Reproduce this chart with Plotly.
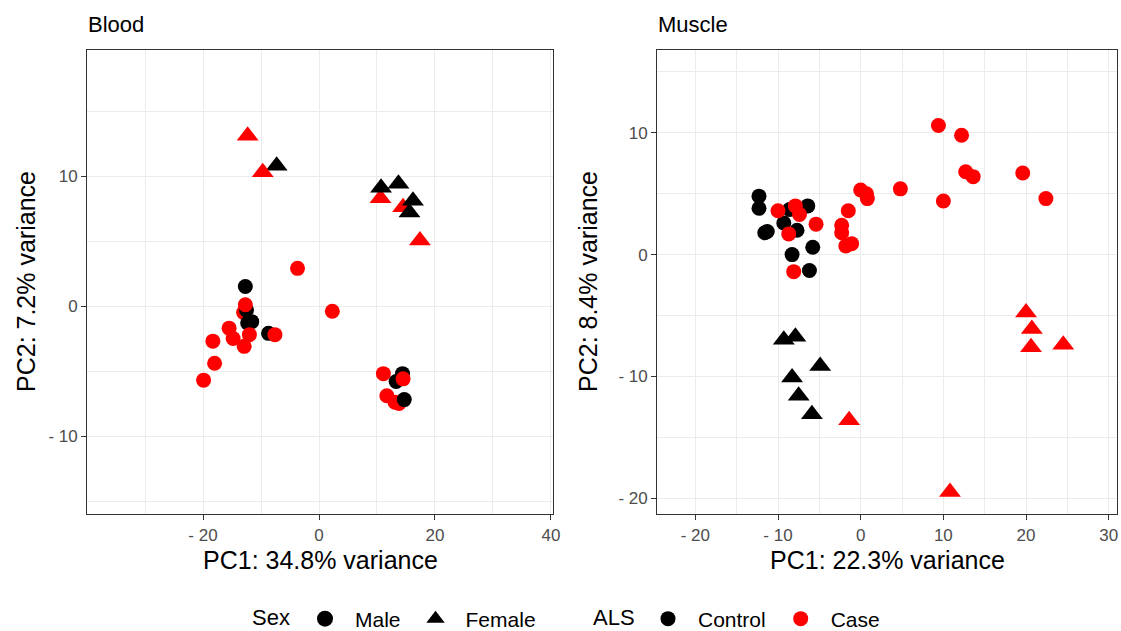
import plotly.graph_objects as go

# ---------------- data ----------------
blood_x = [-7.3, -9.7, -12.3, 10.6, 14.5, 17.4, 10.7, 13.7, 16.2, 15.6,
           -3.7, 2.3, -12.7, -13.0, -12.5, -12.7, -12.3, -11.6, -8.7, -7.6,
           -15.5, -14.8, -12.9, -12.0, -18.3, -18.0, -19.9,
           14.4, 13.3, 11.1, 14.5, 11.7, 13.1, 13.8, 14.7]
blood_y = [10.8, 10.3, 13.1, 8.3, 7.6, 5.05, 9.1, 9.4, 8.1, 7.2,
           2.9, -0.4, 1.5, -0.5, -0.3, 0.1, -1.3, -1.2, -2.1, -2.2,
           -1.7, -2.5, -3.1, -2.2, -2.7, -4.4, -5.7,
           -5.2, -5.8, -5.2, -5.6, -6.9, -7.4, -7.5, -7.2]
blood_sex = ["Female"] * 10 + ["Male"] * 25
blood_als = ["Control", "Case", "Case", "Case", "Case", "Case",
             "Control", "Control", "Control", "Control",
             "Case", "Case", "Control", "Case", "Control", "Case", "Control", "Control", "Control", "Case",
             "Case", "Case", "Case", "Case", "Case", "Case", "Case",
             "Control", "Control", "Case", "Case", "Case", "Case", "Case", "Control"]

muscle_x = [-9.3, -7.9, -4.9, -8.3, -7.5, -5.9,
            -1.4, 10.8, 20.0, 20.7, 20.6, 24.5,
            -12.3, -12.3, -11.6, -11.3, -6.4, -8.6, -9.3, -7.7, -5.8, -8.3, -6.2,
            9.4, 12.2, 12.7, 13.6, 19.6, 22.4, 10.0, 4.8, 0.0, 0.7, 0.8, -1.5,
            -2.3, -2.3, -1.8, -1.1, -5.4, -10.0, -7.9, -7.4, -8.7, -8.1]
muscle_y = [-7.0, -6.75, -9.15, -10.1, -11.6, -13.1,
            -13.6, -19.5, -4.75, -6.1, -7.6, -7.4,
            4.8, 3.8, 1.8, 1.9, 4.0, 3.7, 2.6, 2.0, 0.6, 0.0, -1.3,
            10.6, 9.8, 6.8, 6.4, 6.7, 4.6, 4.4, 5.4, 5.3, 5.0, 4.6, 3.6,
            2.4, 1.8, 0.7, 0.9, 2.5, 3.6, 4.0, 3.3, 1.7, -1.4]
muscle_sex = ["Female"] * 12 + ["Male"] * 33
muscle_als = ["Control"] * 6 + ["Case"] * 6 + ["Control"] * 11 + ["Case"] * 22

blood_xticks = [-20, 0, 20, 40]
blood_xtext = ["- 20", "0", "20", "40"]
blood_yticks = [-10, 0, 10]
blood_ytext = ["- 10", "0", "10"]
muscle_xticks = [-20, -10, 0, 10, 20, 30]
muscle_xtext = ["- 20", "- 10", "0", "10", "20", "30"]
muscle_yticks = [-20, -10, 0, 10]
muscle_ytext = ["- 20", "- 10", "0", "10"]

sex_levels = ["Male", "Female"]
als_levels = ["Control", "Case"]

# ---------------- styles ----------------
W, H = 1121, 631
FONT = "Liberation Sans, Arial, sans-serif"
als_color = {"Control": "#000000", "Case": "#FF0000"}
sex_symbol = {"Male": "circle", "Female": "triangle-up"}
sex_size = {"Male": 15, "Female": 19}

fig = go.Figure()


def add_panel(xs, ys, sexes, alss, xa, ya):
    fig.add_trace(go.Scatter(
        x=xs, y=ys, mode="markers", xaxis=xa, yaxis=ya, showlegend=False,
        hoverinfo="skip",
        marker=dict(color=[als_color[a] for a in alss],
                    symbol=[sex_symbol[s] for s in sexes],
                    size=[sex_size[s] for s in sexes],
                    opacity=1, line=dict(width=0))))


add_panel(blood_x, blood_y, blood_sex, blood_als, "x", "y")
add_panel(muscle_x, muscle_y, muscle_sex, muscle_als, "x2", "y2")

# legend entries
for s in sex_levels:
    fig.add_trace(go.Scatter(x=[None], y=[None], mode="markers", name=s,
                             legend="legend",
                             marker=dict(color="black", symbol=sex_symbol[s], size=16, opacity=1)))
for a in als_levels:
    fig.add_trace(go.Scatter(x=[None], y=[None], mode="markers", name=a,
                             legend="legend2",
                             marker=dict(color=als_color[a], symbol="circle", size=15, opacity=1)))


def px_x(p):
    return p / W


def px_y(p):
    return 1 - p / H


axis_common = dict(
    showgrid=True, gridcolor="#EBEBEB", gridwidth=1.3,
    zeroline=False, showline=True, mirror=True, linecolor="#333333", linewidth=1.3,
    ticks="outside", ticklen=5, tickwidth=1.3, tickcolor="#333333",
    tickfont=dict(family=FONT, size=17, color="#4D4D4D"),
    tickmode="array", automargin=False,
)
minor_common = dict(showgrid=True, gridcolor="#EBEBEB", gridwidth=0.7, ticks="")

bx0, bx1 = 87.3, 553.3
mx0, mx1 = 657.3, 1117.0
py0, py1 = 50.0, 514.0

legend_common = dict(orientation="h", xanchor="left", yanchor="middle",
                     itemwidth=50, bgcolor="rgba(0,0,0,0)",
                     font=dict(family=FONT, size=21, color="black"))

fig.update_layout(
    width=W, height=H,
    margin=dict(l=0, r=0, t=0, b=0, autoexpand=False),
    paper_bgcolor="white", plot_bgcolor="white",
    font=dict(family=FONT, color="black"),
    xaxis=dict(axis_common, domain=[px_x(bx0), px_x(bx1)], range=[-39.95, 40.4],
               tickvals=blood_xticks, ticktext=blood_xtext,
               minor=dict(minor_common, tickvals=[-30, -10, 10, 30]), anchor="y"),
    yaxis=dict(axis_common, domain=[px_y(py1), px_y(py0)], range=[-16.0, 19.7],
               tickvals=blood_yticks, ticktext=blood_ytext,
               minor=dict(minor_common, tickvals=[-15, -5, 5, 15]), anchor="x"),
    xaxis2=dict(axis_common, domain=[px_x(mx0), px_x(mx1)], range=[-24.6, 31.0],
                tickvals=muscle_xticks, ticktext=muscle_xtext,
                minor=dict(minor_common, tickvals=[-15, -5, 5, 15, 25]), anchor="y2"),
    yaxis2=dict(axis_common, domain=[px_y(py1), px_y(py0)], range=[-21.3, 16.8],
                tickvals=muscle_yticks, ticktext=muscle_ytext,
                minor=dict(minor_common, tickvals=[-15, -5, 5, 15]), anchor="x2"),
    legend=dict(legend_common, x=px_x(295), y=px_y(619)),
    legend2=dict(legend_common, x=px_x(638), y=px_y(619)),
)

annotations = [
    dict(text="Blood", x=px_x(bx0), y=px_y(24), xanchor="left", yanchor="middle",
         font=dict(size=22)),
    dict(text="Muscle", x=px_x(mx0), y=px_y(24), xanchor="left", yanchor="middle",
         font=dict(size=22)),
    dict(text="PC1: 34.8% variance", x=px_x((bx0 + bx1) / 2), y=px_y(560),
         xanchor="center", yanchor="middle", font=dict(size=25)),
    dict(text="PC1: 22.3% variance", x=px_x((mx0 + mx1) / 2), y=px_y(560),
         xanchor="center", yanchor="middle", font=dict(size=25)),
    dict(text="PC2: 7.2% variance", x=px_x(26), y=px_y((py0 + py1) / 2), textangle=-90,
         xanchor="center", yanchor="middle", font=dict(size=25)),
    dict(text="PC2: 8.4% variance", x=px_x(588), y=px_y((py0 + py1) / 2), textangle=-90,
         xanchor="center", yanchor="middle", font=dict(size=25)),
    dict(text="Sex", x=px_x(251), y=px_y(617.5), xanchor="left", yanchor="middle",
         font=dict(size=22)),
    dict(text="ALS", x=px_x(592), y=px_y(617.5), xanchor="left", yanchor="middle",
         font=dict(size=22)),
]
for a in annotations:
    a.update(xref="paper", yref="paper", showarrow=False, borderpad=0)
    a["font"] = dict(family=FONT, color="black", size=a["font"]["size"])
fig.update_layout(annotations=annotations)

fig.write_html("out.html", config={"displayModeBar": False},
               post_script="document.body.style.margin='0';document.body.style.overflow='hidden';")
